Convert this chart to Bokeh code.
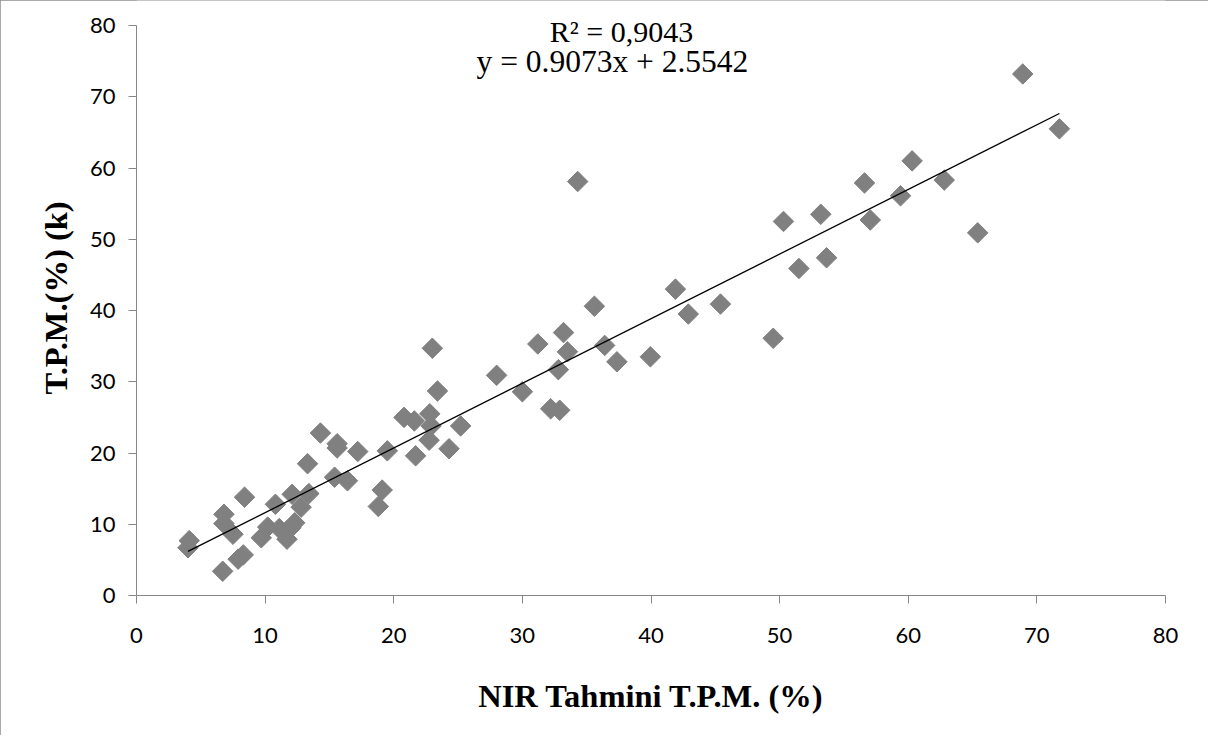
import numpy as np
from bokeh.plotting import figure
from bokeh.models import Label, FixedTicker, Range1d
from bokeh.embed import file_html
from bokeh.resources import INLINE

# Data
nir_pred = [4.1, 4.0, 6.7, 6.8, 6.8, 7.5, 7.9, 8.3, 8.4, 9.7, 10.2, 11.1, 11.7, 12.0, 12.3,
            10.8, 12.1, 12.8, 13.4, 13.3, 14.3, 15.6, 15.6, 15.4, 16.4, 17.2, 19.5, 19.1,
            18.8, 21.7, 20.8, 21.6, 22.8, 22.9, 22.75, 24.3, 25.2, 23.0, 23.4, 28.0, 30.0,
            31.2, 32.2, 32.9, 32.8, 33.2, 33.5, 34.3, 35.6, 36.4, 37.35, 39.95, 41.9, 42.9,
            45.4, 49.5, 50.3, 51.5, 53.2, 53.65, 56.6, 57.05, 59.4, 60.3, 62.8, 65.4, 68.9,
            71.75]
tpm_k = [7.7, 6.7, 3.4, 11.4, 10.1, 8.6, 5.1, 5.7, 13.8, 8.1, 9.6, 9.4, 7.9, 9.5, 10.2,
         12.8, 14.2, 12.4, 14.3, 18.5, 22.8, 21.3, 20.7, 16.6, 16.1, 20.2, 20.3, 14.8,
         12.5, 19.6, 25.0, 24.5, 25.5, 23.8, 21.8, 20.6, 23.8, 34.7, 28.7, 30.9, 28.6,
         35.3, 26.2, 26.0, 31.7, 36.9, 34.2, 58.1, 40.6, 35.1, 32.8, 33.5, 43.0, 39.5,
         40.9, 36.1, 52.5, 45.9, 53.5, 47.4, 57.9, 52.7, 56.1, 61.0, 58.3, 50.9, 73.2,
         65.5]
slope = 0.9073
intercept = 2.5542
r2_text = "R² = 0,9043"
eq_text = "y = 0.9073x + 2.5542"
x_ticks = [0, 10, 20, 30, 40, 50, 60, 70, 80]
y_ticks = [0, 10, 20, 30, 40, 50, 60, 70, 80]

# frame 595 px tall; 80 units = 570 px, so the range extends a little above 80
p = figure(width=1208, height=735, output_backend="svg", toolbar_location=None,
           x_range=Range1d(0, 80), y_range=Range1d(0, 595 / 7.125),
           min_border_left=136, min_border_top=0, min_border_right=43, min_border_bottom=140)
p.styles = {"outline": "1px solid #8c8c8c", "outline-offset": "-1px"}
p.outline_line_color = None
p.xgrid.grid_line_color = None
p.ygrid.grid_line_color = None
p.background_fill_color = "white"
p.border_fill_color = "white"

for ax, ticks in ((p.xaxis, x_ticks), (p.yaxis, y_ticks)):
    ax.ticker = FixedTicker(ticks=ticks)
    ax.axis_line_color = "#868686"
    ax.major_tick_line_color = "#868686"
    ax.major_tick_out = 8
    ax.major_tick_in = 0
    ax.minor_tick_line_color = None
    ax.major_label_text_font = "Lato"
    ax.major_label_text_font_size = "22px"
    ax.major_label_text_color = "black"
    ax.axis_label_text_font = "Liberation Serif"
    ax.axis_label_text_font_style = "bold"
    ax.axis_label_text_font_size = "32.5px"
    ax.axis_label_text_color = "black"
p.yaxis.bounds = (0, 80)

p.xaxis.axis_label = "NIR Tahmini T.P.M. (%)"
p.yaxis.axis_label = "T.P.M.(%) (k)"
p.xaxis.major_label_standoff = 24
p.xaxis.axis_label_standoff = 32
p.yaxis.major_label_standoff = 13
p.yaxis.axis_label_standoff = 13

p.scatter(nir_pred, tpm_k, marker="square", size=14.5, angle=np.pi / 4,
          fill_color="#808080", line_color="#808080", line_width=1)

xs = np.array([min(nir_pred), max(nir_pred)])
p.line(xs, slope * xs + intercept, line_color="black", line_width=1.3)

p.add_layout(Label(x=37.7, y=79.2, text=r2_text, text_align="center", text_baseline="alphabetic",
                   text_font="Liberation Serif", text_font_size="30px", text_color="black"))
p.add_layout(Label(x=37.0, y=75.0, text=eq_text, text_align="center", text_baseline="alphabetic",
                   text_font="Liberation Serif", text_font_size="31.5px", text_color="black"))

open("out.html", "w").write(file_html(p, INLINE))
